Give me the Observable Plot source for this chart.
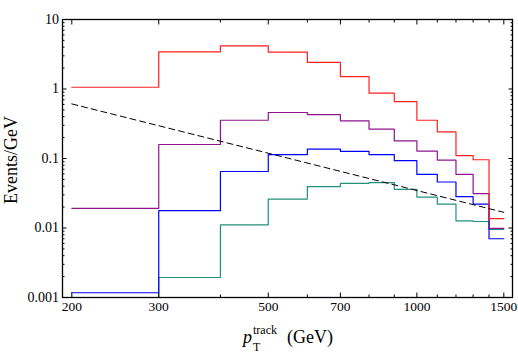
<!DOCTYPE html>
<html>
<head>
<meta charset="utf-8">
<script src="https://cdn.jsdelivr.net/npm/d3@7"></script>
<script src="https://cdn.jsdelivr.net/npm/@observablehq/plot@0.6"></script>
<style>
  html, body { margin: 0; padding: 0; background: white; }
</style>
</head>
<body>
<div id="chart"></div>
<script>
// Bin edges (GeV)
const edges = [200, 300, 400, 500, 600, 700, 800, 900, 1000, 1100, 1200, 1300, 1400, 1500];
// Series values per bin (Events/GeV)
const redVals    = [1.06, 3.43, 4.18, 3.39, 2.41, 1.51, 0.87, 0.66, 0.355, 0.241, 0.110, 0.096, 0.0136];
const purpleVals = [0.0192, 0.159, 0.355, 0.459, 0.429, 0.347, 0.264, 0.179, 0.128, 0.095, 0.059, 0.0312, 0.00987];
const blueVals   = [0.00117, 0.0178, 0.065, 0.114, 0.136, 0.127, 0.114, 0.093, 0.059, 0.0459, 0.0282, 0.0221, 0.0070];
const tealVals   = [0.0001, 0.00194, 0.0111, 0.0261, 0.0393, 0.0440, 0.0450, 0.0360, 0.0279, 0.0221, 0.0127, 0.0124, 0.00955];
// Dashed reference line endpoints
const dashX = [200, 1500];
const dashY = [0.61, 0.0168];
// Tick values
const xMajor = [200, 300, 500, 700, 1000, 1500];
const xLabels = ["200", "300", "500", "700", "1000", "1500"];
const xMinor = [400, 600, 800, 900, 1100, 1200, 1300, 1400];
const yMajor = [0.001, 0.01, 0.1, 1, 10];
const yLabels = ["0.001", "0.01", "0.1", "1", "10"];
const yMinor = [];
for (const d of [0.001, 0.01, 0.1, 1]) for (let k = 2; k <= 9; k++) yMinor.push(+(d * k).toPrecision(3));

function stepData(vals) {
  const pts = vals.map((v, i) => ({x: edges[i], y: v}));
  pts.push({x: edges[edges.length - 1], y: vals[vals.length - 1]});
  return pts;
}
const series = [
  {vals: tealVals, color: "#23907c"},
  {vals: blueVals, color: "#0000ff"},
  {vals: purpleVals, color: "#8e1490"},
  {vals: redVals, color: "#ff2020"}
];
const dashData = dashX.map((x, i) => ({x, y: dashY[i]}));
const xLabelData = xMajor.map((v, i) => ({v, t: xLabels[i]}));

const noText = () => "";
const plot = Plot.plot({
  width: 518,
  height: 354,
  marginLeft: 62,
  marginRight: 6,
  marginTop: 19,
  marginBottom: 57,
  style: {fontFamily: "'Liberation Serif', 'DejaVu Serif', serif", fontSize: "14px", background: "white", color: "black"},
  x: {type: "log", domain: [191.5, 1562]},
  y: {type: "log", domain: [0.001, 10]},
  marks: [
    ...series.map(s => Plot.line(stepData(s.vals), {x: "x", y: "y", curve: "step-after", stroke: s.color, strokeWidth: 1.2, clip: true})),
    Plot.line(dashData, {x: "x", y: "y", stroke: "black", strokeWidth: 1, strokeDasharray: "6,4", clip: true}),
    Plot.frame({stroke: "black", strokeWidth: 1.3}),
    // x labels
    Plot.text(xLabelData, {x: "v", text: "t", frameAnchor: "bottom", dy: 13, fontSize: 13.5, fill: "black"}),
    // x ticks bottom/top
    Plot.axisX(xMajor, {tickSize: -4.5, tickFormat: noText, label: null}),
    Plot.axisX(xMinor, {tickSize: -2.5, tickFormat: noText, label: null}),
    Plot.axisX(xMajor, {anchor: "top", tickSize: -4.5, tickFormat: noText, label: null}),
    Plot.axisX(xMinor, {anchor: "top", tickSize: -2.5, tickFormat: noText, label: null}),
    // y labels
    Plot.axisY(yMajor, {tickSize: 0, tickPadding: 3.5, tickFormat: d => yLabels[yMajor.indexOf(d)], fontSize: 14, label: null}),
    // y ticks left/right
    Plot.axisY(yMajor, {tickSize: -4.5, tickFormat: noText, label: null}),
    Plot.axisY(yMinor, {tickSize: -2.5, tickFormat: noText, label: null}),
    Plot.axisY(yMajor, {anchor: "right", tickSize: -4.5, tickFormat: noText, label: null}),
    Plot.axisY(yMinor, {anchor: "right", tickSize: -2.5, tickFormat: noText, label: null})
  ]
});

const svg = d3.select(plot);
const ff = "'Liberation Serif', 'DejaVu Serif', serif";
// y-axis title
svg.append("text")
  .attr("transform", "translate(17,160) rotate(-90)")
  .attr("text-anchor", "middle")
  .attr("font-family", ff)
  .attr("font-size", 18)
  .attr("fill", "black")
  .text("Events/GeV");
// x-axis title: p_T^track (GeV)
const xt = svg.append("g").attr("font-family", ff).attr("fill", "black").attr("text-anchor", "start");
xt.append("text").attr("x", 243).attr("y", 343).attr("font-size", 18).attr("font-style", "italic").text("p");
xt.append("text").attr("x", 253).attr("y", 351).attr("font-size", 12).text("T");
xt.append("text").attr("x", 253).attr("y", 334).attr("font-size", 12).text("track");
xt.append("text").attr("x", 287).attr("y", 343).attr("font-size", 18).text("(GeV)");

document.getElementById("chart").appendChild(plot);
</script>
</body>
</html>
